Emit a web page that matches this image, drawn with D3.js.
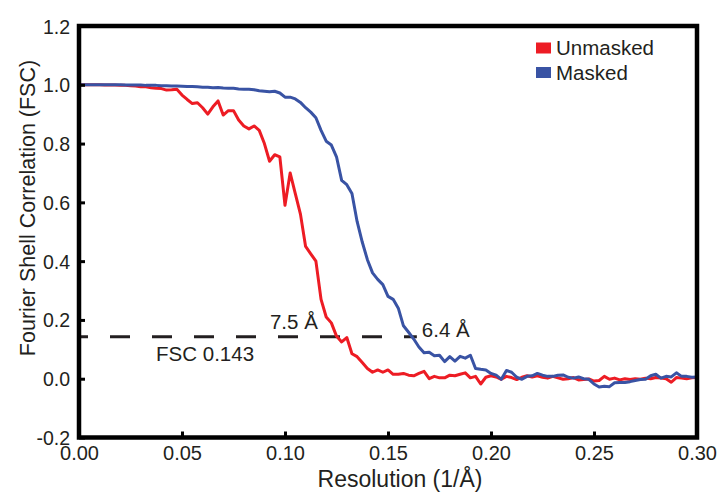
<!DOCTYPE html>
<html>
<head>
<meta charset="utf-8">
<script src="https://cdn.jsdelivr.net/npm/d3@7"></script>
<style>
  html, body { margin: 0; padding: 0; background: #fff; }
  svg { display: block; }
  text { font-family: "Liberation Sans", Arial, Helvetica, sans-serif; fill: #231f20; }
</style>
</head>
<body>
<svg id="chart" width="719" height="496"></svg>
<script>
// ---- data ----
const resolution = [
  0.0000,0.0025,0.0050,0.0075,0.0100,0.0125,0.0150,0.0175,0.0200,0.0225,
  0.0250,0.0275,0.0300,0.0325,0.0350,0.0375,0.0400,0.0425,0.0450,0.0475,
  0.0500,0.0525,0.0550,0.0575,0.0600,0.0625,0.0650,0.0675,0.0700,0.0725,
  0.0750,0.0775,0.0800,0.0825,0.0850,0.0875,0.0900,0.0925,0.0950,0.0975,
  0.1000,0.1025,0.1050,0.1075,0.1100,0.1125,0.1150,0.1175,0.1200,0.1225,
  0.1250,0.1275,0.1300,0.1325,0.1350,0.1375,0.1400,0.1425,0.1450,0.1475,
  0.1500,0.1525,0.1550,0.1575,0.1600,0.1625,0.1650,0.1675,0.1700,0.1725,
  0.1750,0.1775,0.1800,0.1825,0.1850,0.1875,0.1900,0.1925,0.1950,0.1975,
  0.2000,0.2025,0.2050,0.2075,0.2100,0.2125,0.2150,0.2175,0.2200,0.2225,
  0.2250,0.2275,0.2300,0.2325,0.2350,0.2375,0.2400,0.2425,0.2450,0.2475,
  0.2500,0.2525,0.2550,0.2575,0.2600,0.2625,0.2650,0.2675,0.2700,0.2725,
  0.2750,0.2775,0.2800,0.2825,0.2850,0.2875,0.2900,0.2925,0.2950,0.2975,
  0.3000
];
const unmasked = [
  1.000,1.000,1.000,1.000,1.000,0.999,0.999,0.999,0.998,0.998,
  0.997,0.996,0.993,0.993,0.990,0.988,0.987,0.982,0.983,0.985,
  0.965,0.950,0.936,0.939,0.922,0.900,0.925,0.945,0.897,0.912,
  0.912,0.880,0.860,0.850,0.860,0.845,0.800,0.740,0.762,0.755,
  0.590,0.700,0.630,0.560,0.450,0.425,0.400,0.270,0.210,0.190,
  0.145,0.125,0.140,0.085,0.075,0.055,0.035,0.022,0.030,0.022,
  0.030,0.015,0.015,0.018,0.012,0.010,0.018,0.025,0.000,0.008,
  0.003,0.003,0.012,0.010,0.015,0.020,0.003,0.008,-0.018,0.005,
  0.010,0.006,-0.002,0.008,0.004,-0.003,0.005,0.010,0.006,0.010,
  0.005,0.002,0.008,0.003,-0.002,0.000,0.004,-0.004,-0.003,-0.001,
  -0.008,-0.006,0.008,-0.002,0.002,-0.004,0.000,-0.003,0.000,-0.002,
  0.002,0.000,0.004,0.002,0.000,-0.012,0.004,0.002,0.000,0.003,
  0.004
];
const masked = [
  1.000,1.000,1.000,1.000,1.000,1.000,1.000,1.000,1.000,0.999,
  0.999,0.999,0.999,0.998,0.998,0.998,0.997,0.997,0.996,0.996,
  0.995,0.994,0.994,0.993,0.992,0.992,0.990,0.991,0.989,0.988,
  0.988,0.986,0.985,0.985,0.983,0.980,0.978,0.976,0.978,0.972,
  0.958,0.958,0.952,0.940,0.922,0.907,0.888,0.845,0.808,0.795,
  0.755,0.675,0.660,0.630,0.535,0.465,0.405,0.360,0.338,0.320,
  0.280,0.270,0.240,0.180,0.158,0.135,0.108,0.088,0.090,0.078,
  0.080,0.058,0.075,0.060,0.076,0.070,0.080,0.035,0.032,0.030,
  0.018,0.012,-0.002,0.028,0.022,0.005,-0.002,0.008,0.010,0.018,
  0.012,0.008,0.008,0.012,0.013,0.005,0.002,0.006,0.000,-0.002,
  -0.018,-0.028,-0.026,-0.027,-0.014,-0.013,-0.013,-0.010,-0.006,-0.003,
  -0.002,0.010,0.015,0.002,0.008,0.006,0.020,0.008,0.008,0.005,
  0.006
];
const xTicks = [0.00, 0.05, 0.10, 0.15, 0.20, 0.25, 0.30];
const yTicks = [-0.2, 0.0, 0.2, 0.4, 0.6, 0.8, 1.0, 1.2];
const seriesNames = ["Unmasked", "Masked"];
const seriesColors = ["#ed1c24", "#3953a4"];
const fscThreshold = 0.143;
const thresholdLabel = "FSC 0.143";
const unmaskedRes = "7.5 Å";
const maskedRes = "6.4 Å";

// ---- layout ----
const svg = d3.select("#chart");
const mLeft = 79, mRight = 697, mTop = 26, mBottom = 437.5;
const x = d3.scaleLinear().domain([0, 0.30]).range([mLeft, mRight]);
const y = d3.scaleLinear().domain([-0.2, 1.2]).range([mBottom, mTop]);

svg.append("defs").append("clipPath").attr("id", "clip")
  .append("rect").attr("x", mLeft).attr("y", mTop)
  .attr("width", mRight - mLeft).attr("height", mBottom - mTop);

// threshold dashed line
svg.append("line")
  .attr("x1", x(0)).attr("x2", x(0.164))
  .attr("y1", y(fscThreshold)).attr("y2", y(fscThreshold))
  .attr("stroke", "#231f20").attr("stroke-width", 3)
  .attr("stroke-dasharray", "20,22").attr("stroke-dashoffset", 11);

// curves
const line = d3.line().x((d, i) => x(resolution[i])).y(d => y(d));
const gCurves = svg.append("g").attr("clip-path", "url(#clip)");
[unmasked, masked].forEach((s, k) => {
  gCurves.append("path").datum(s)
    .attr("d", line)
    .attr("fill", "none")
    .attr("stroke", seriesColors[k])
    .attr("stroke-width", 3)
    .attr("stroke-linejoin", "round");
});

// axes with inward ticks
const hyphen = f => d => f(d).replace("\u2212", "-");
const xAxis = d3.axisBottom(x).tickValues(xTicks).tickSize(-6).tickPadding(8)
  .tickFormat(hyphen(d3.format(".2f")));
const yAxis = d3.axisLeft(y).tickValues(yTicks).tickSize(-6).tickPadding(9)
  .tickFormat(hyphen(d3.format(".1f")));

const gx = svg.append("g").attr("transform", `translate(0,${mBottom})`).call(xAxis);
const gy = svg.append("g").attr("transform", `translate(${mLeft},0)`).call(yAxis);
[gx, gy].forEach(g => {
  g.select(".domain").remove();
  g.selectAll(".tick line").attr("stroke", "#000").attr("stroke-width", 3);
  g.selectAll(".tick text").attr("fill", "#231f20")
    .style("font-family", '"Liberation Sans", Arial, sans-serif');
});
gx.selectAll(".tick text").style("font-size", "20px");
gy.selectAll(".tick text").style("font-size", "19.5px").attr("dy", "0.36em");

// frame
svg.append("rect")
  .attr("x", mLeft).attr("y", mTop)
  .attr("width", mRight - mLeft).attr("height", mBottom - mTop)
  .attr("fill", "none").attr("stroke", "#000").attr("stroke-width", 4.5);

// axis titles
svg.append("text")
  .attr("transform", "translate(35,208) rotate(-90)")
  .attr("text-anchor", "middle")
  .style("font-size", "21.5px")
  .text("Fourier Shell Correlation (FSC)");
svg.append("text")
  .attr("x", 400).attr("y", 487)
  .attr("text-anchor", "middle")
  .style("font-size", "23px")
  .text("Resolution (1/Å)");

// annotations
svg.append("text").attr("x", x(0.0374)).attr("y", y(0.061))
  .style("font-size", "20.5px").text(thresholdLabel);
svg.append("text").attr("x", x(0.0927)).attr("y", y(0.169))
  .style("font-size", "20.5px").text(unmaskedRes);
svg.append("text").attr("x", x(0.1664)).attr("y", y(0.141))
  .style("font-size", "20.5px").text(maskedRes);

// legend
const legend = svg.append("g");
seriesNames.forEach((name, k) => {
  const yy = 42.5 + k * 24.5;
  legend.append("rect").attr("x", 536).attr("y", yy)
    .attr("width", 15).attr("height", 11).attr("fill", seriesColors[k]);
  legend.append("text").attr("x", 556).attr("y", yy + 12.5)
    .style("font-size", "20.5px").text(name);
});
</script>
</body>
</html>
